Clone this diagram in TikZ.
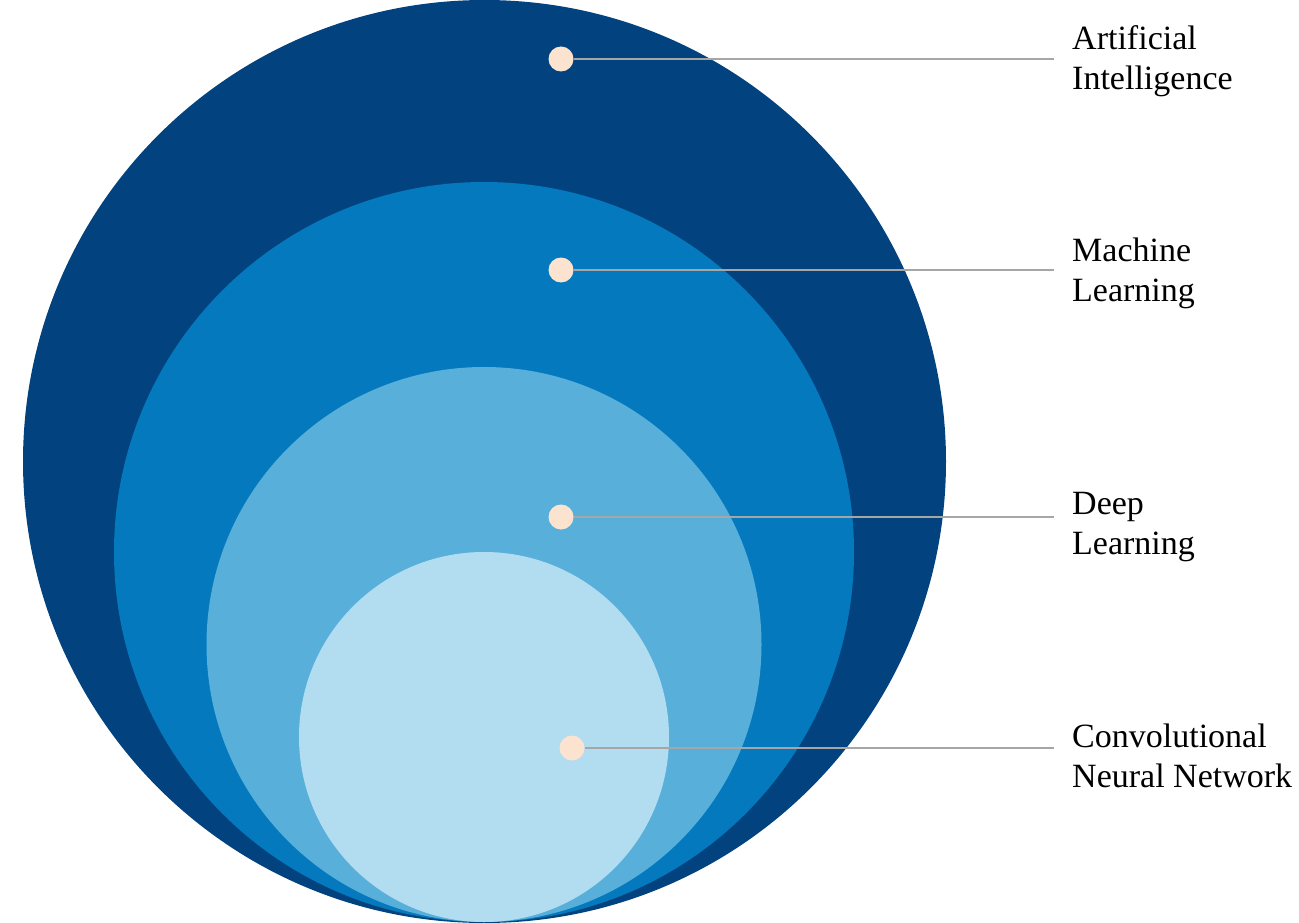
\documentclass[tikz,border=0pt]{standalone}
\usepackage{fontspec}
\setmainfont{Liberation Serif}
\definecolor{aiblue}{HTML}{02437F}
\definecolor{mlblue}{HTML}{0479BD}
\definecolor{dlblue}{HTML}{58B0DA}
\definecolor{cnnblue}{HTML}{B2DCF0}
\definecolor{dotpeach}{HTML}{FCE3D0}
\definecolor{leader}{HTML}{A6A6A6}
\begin{document}
\begin{tikzpicture}[x=1pt,y=-1pt,
  dotmark/.style={circle,fill=dotpeach,minimum size=25pt,inner sep=0pt},
  lbl/.style={anchor=base west,align=left,inner sep=0pt,font=\fontsize{34}{40}\selectfont},
  leaderline/.style={draw=leader,line width=2.8pt}]
\useasboundingbox (0,0) rectangle (1299,923);
\fill[aiblue] (484.5,461.5) circle (461.5);
\fill[mlblue] (484,552) circle (370);
\fill[dlblue] (484,644.5) circle (277.5);
\fill[cnnblue] (484,737) circle (185);

\node[dotmark] (d1) at (561,59) {};
\node[dotmark] (d2) at (561,270) {};
\node[dotmark] (d3) at (561,517) {};
\node[dotmark] (d4) at (572,748) {};

\coordinate (e1) at (1054,59);
\coordinate (e2) at (1054,270);
\coordinate (e3) at (1054,517);
\coordinate (e4) at (1054,748);

\draw[leaderline] (d1.east) -- (e1);
\draw[leaderline] (d2.east) -- (e2);
\draw[leaderline] (d3.east) -- (e3);
\draw[leaderline] (d4.east) -- (e4);

\node[lbl] (t1) at (1072,90) {Artificial\\Intelligence};
\node[lbl] (t2) at (1072,301) {Machine\\Learning};
\node[lbl] (t3) at (1072,554) {Deep\\Learning};
\node[lbl] (t4) at (1072,787) {Convolutional\\Neural Network};
\end{tikzpicture}
\end{document}
